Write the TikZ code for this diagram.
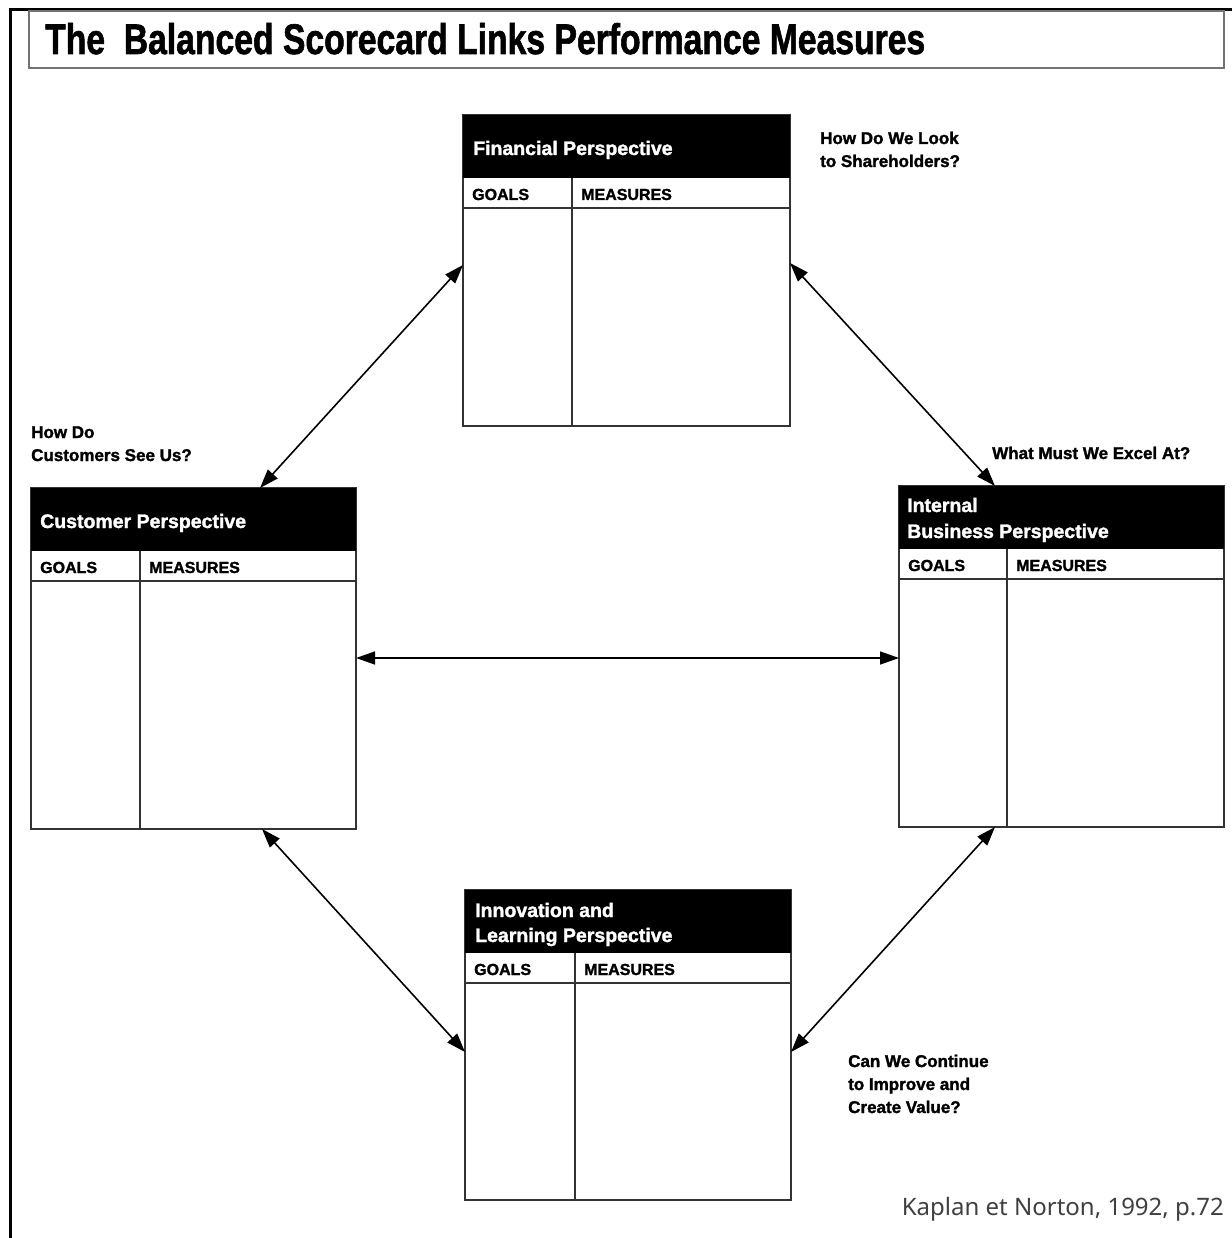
\documentclass[tikz,border=0pt]{standalone}
\usepackage{fontspec}
\setmainfont{Liberation Sans}
\newfontfamily\heavyfont{Liberation Sans Bold}[FakeBold=1.6]
\newfontfamily\citefont{Noto Sans}
\usetikzlibrary{arrows.meta,calc}
\tikzset{
  cardbox/.style={rectangle, draw=black!80, line width=1.6pt, inner sep=0pt, outer sep=0pt},
  cardline/.style={draw=black!80, line width=1.4pt},
  headtxt/.style={text=white, font=\heavyfont\fontsize{19.5}{26}\selectfont, inner sep=0pt, anchor=base west},
  coltxt/.style={text=black, font=\heavyfont\fontsize{16}{18}\selectfont, inner sep=0pt, anchor=base west},
  question/.style={font=\heavyfont\fontsize{17}{23}\selectfont, inner sep=0pt, anchor=base west, align=left},
  link/.style={line width=1.6pt, {Triangle[length=19pt,width=13pt]}-{Triangle[length=19pt,width=13pt]}},
}
\newcommand{\scard}[6]{%
  \node[cardbox, minimum width=#4pt, minimum height=#5pt, anchor=north west] (#1) at (#2,#3) {};
  \fill[black] (#1.north west) rectangle ($(#1.north east)+(0,63)$);
  \draw[cardline] ($(#1.north west)+(0,93)$) -- ($(#1.north east)+(0,93)$);
  \draw[cardline] ($(#1.north west)+(#6,63)$) -- ($(#1.south west)+(#6,0)$);
  \node[coltxt] (#1-goals) at ($(#1.north west)+(9,85)$) {GOALS};
  \node[coltxt] (#1-meas) at ($(#1.north west)+(#6+9,85)$) {MEASURES};
}
\begin{document}
\begin{tikzpicture}[x=1pt,y=-1pt]
\useasboundingbox (0,0) rectangle (1231,1238);
\fill[white] (0,0) rectangle (1231,1238);
% outer frame
\draw[line width=3pt] (10,1240) -- (10,10) -- (1233,10);
% title
\node[rectangle, draw=black!55, line width=2pt, minimum width=1195pt, minimum height=57pt, anchor=north west, inner sep=0pt, outer sep=0pt] (titlebox) at (29,11) {};
\node[anchor=base west, inner sep=0pt] (title) at (45,54) {\resizebox{880pt}{31pt}{\heavyfont The\ \ Balanced Scorecard Links Performance Measures}};
% cards
\scard{fin}{463}{115}{327}{311}{109}
\scard{cus}{31}{488}{325}{341}{109}
\scard{int}{899}{486}{325}{341}{108}
\scard{inn}{465}{890}{326}{310}{110}
% headers
\node[headtxt] (fin-head) at ($(fin.north west)+(10,40)$) {Financial Perspective};
\node[headtxt] (cus-head) at ($(cus.north west)+(9,40)$) {Customer Perspective};
\node[headtxt] (int-head1) at ($(int.north west)+(8,26)$) {Internal};
\node[headtxt] (int-head2) at ($(int.north west)+(8,52)$) {Business Perspective};
\node[headtxt] (inn-head1) at ($(inn.north west)+(10,27)$) {Innovation and};
\node[headtxt] (inn-head2) at ($(inn.north west)+(10,52)$) {Learning Perspective};
% questions (anchor = baseline of last line)
\node[question] (q-fin) at (820,167) {How Do We Look\\to Shareholders?};
\node[question] (q-cus) at (31,461) {How Do\\Customers See Us?};
\node[question] (q-int) at (992,459) {What Must We Excel At?};
\node[question] (q-inn) at (848,1113) {Can We Continue\\to Improve and\\Create Value?};
% links
\draw[link] ($(fin.north west)+(0,150)$) -- ($(cus.north west)+(229,0)$);
\draw[link] ($(fin.north east)+(0,148)$) -- ($(int.north west)+(96,0)$);
\draw[link] ($(cus.north east)+(0,170)$) -- ($(int.north west)+(0,172)$);
\draw[link] ($(cus.south west)+(231,0)$) -- ($(inn.north west)+(0,162)$);
\draw[link] ($(int.south west)+(96,0)$) -- ($(inn.north east)+(0,162)$);
% citation
\node[anchor=base east, inner sep=0pt, text=black!75] (cite) at (1224,1215) {\resizebox{322pt}{!}{\citefont\fontsize{24}{28}\selectfont Kaplan et Norton, 1992, p.72}};
\end{tikzpicture}
\end{document}
